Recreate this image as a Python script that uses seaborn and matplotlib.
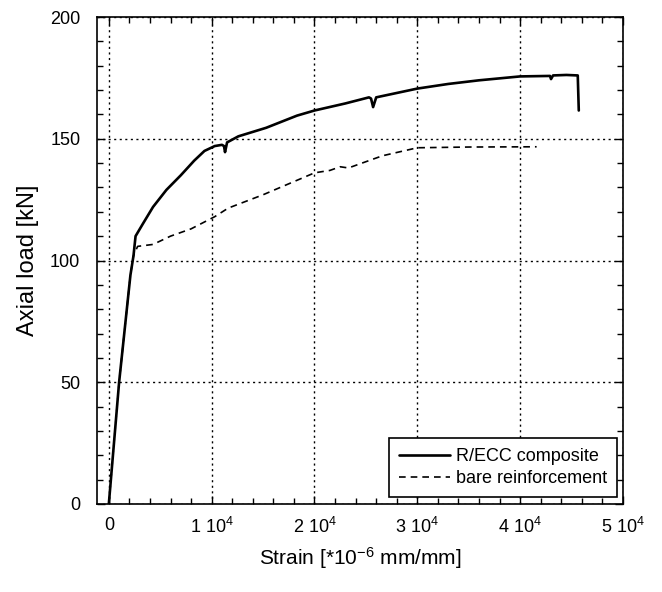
import matplotlib
matplotlib.use("Agg")
import matplotlib.pyplot as plt
import seaborn as sns
import pandas as pd
from matplotlib.ticker import MultipleLocator, FixedLocator

# ---- data ----
recc_strain = [0, 1000, 2100, 2400, 2600, 3300, 4300, 5600, 7000, 8300, 9300, 10300, 11000, 11200,
               11300, 11500, 12600, 15300, 18300, 20000, 23000, 25300, 25500, 25700, 26000, 28000,
               30000, 33000, 36000, 40000, 42900, 43000, 43200, 44500, 45600, 45700]
recc_load = [0, 50, 94, 102, 110, 115, 122, 129, 135, 141, 145, 147, 147.5, 147,
             144.5, 148.5, 151, 154.5, 159.5, 161.6, 164.5, 167, 166.5, 163, 167, 168.8,
             170.6, 172.5, 174, 175.6, 175.8, 174.5, 176, 176.2, 176, 161.6]

bare_strain = [0, 1000, 2100, 2400, 2800, 4300, 6000, 8000, 10300, 11600, 15000, 20000, 21500,
               22500, 23300, 26600, 30000, 35000, 41600]
bare_load = [0, 50, 94, 102, 105.8, 106.6, 110, 113, 118, 121.5, 127, 136, 137,
             138.5, 138, 143, 146.3, 146.6, 146.7]

series_names = ["R/ECC composite", "bare reinforcement"]
x_ticks = [0, 10000, 20000, 30000, 40000, 50000]
x_tick_labels = ["0", r"1 10$^{4}$", r"2 10$^{4}$", r"3 10$^{4}$", r"4 10$^{4}$", r"5 10$^{4}$"]
y_ticks = [0, 50, 100, 150, 200]

df = pd.concat([
    pd.DataFrame({"strain": recc_strain, "load": recc_load, "series": series_names[0]}),
    pd.DataFrame({"strain": bare_strain, "load": bare_load, "series": series_names[1]}),
], ignore_index=True)

sns.set_style("ticks")
plt.rcParams["font.family"] = ["Liberation Sans", "DejaVu Sans"]
plt.rcParams["mathtext.fontset"] = "custom"
plt.rcParams["mathtext.rm"] = "Liberation Sans"
plt.rcParams["mathtext.it"] = "Liberation Sans:italic"
plt.rcParams["mathtext.bf"] = "Liberation Sans:bold"
plt.rcParams["text.color"] = "black"
plt.rcParams["axes.labelcolor"] = "black"
plt.rcParams["xtick.color"] = "black"
plt.rcParams["ytick.color"] = "black"

fig = plt.figure(figsize=(6.62, 5.92), dpi=100)
ax = fig.add_axes([97 / 662, 88 / 592, 526 / 662, 487 / 592])

# draw bare first so solid sits on top
sns.lineplot(data=df[df.series == series_names[1]], x="strain", y="load", ax=ax,
             color="black", linestyle=(0, (4, 3)), linewidth=1.2, label=series_names[1],
             sort=False, estimator=None)
sns.lineplot(data=df[df.series == series_names[0]], x="strain", y="load", ax=ax,
             color="black", linestyle="-", linewidth=1.9, label=series_names[0],
             sort=False, estimator=None)

ax.set_xlim(-1150, 50000)
ax.set_ylim(0, 200)
ax.xaxis.set_major_locator(FixedLocator(x_ticks))
ax.set_xticklabels(x_tick_labels)
ax.yaxis.set_major_locator(FixedLocator(y_ticks))
ax.xaxis.set_minor_locator(MultipleLocator(2000))
ax.yaxis.set_minor_locator(MultipleLocator(10))
ax.tick_params(which="both", direction="in", top=True, right=True, color="black")
ax.tick_params(which="major", length=6, width=1, labelsize=13, labelcolor="black")
ax.tick_params(axis="x", which="major", pad=9)
ax.tick_params(axis="y", which="major", pad=12)
ax.tick_params(which="minor", length=4, width=1)
for s in ax.spines.values():
    s.set_color("black")
    s.set_linewidth(1.2)

ax.grid(True, which="major", color="black", linestyle=(0, (1.5, 2.5)), linewidth=1)

ax.set_xlabel(r"Strain [*10$^{-6}$ mm/mm]", fontsize=15, labelpad=6, color="black")
ax.set_ylabel("Axial load [kN]", fontsize=17, labelpad=8, color="black")

handles, labels = ax.get_legend_handles_labels()
order = [labels.index(series_names[0]), labels.index(series_names[1])]
leg = ax.legend([handles[i] for i in order], [labels[i] for i in order],
                loc="lower right", bbox_to_anchor=(0.989, 0.014), fontsize=13,
                frameon=True, fancybox=False, edgecolor="black", framealpha=1,
                handlelength=2.8, handletextpad=0.35, borderpad=0.55, labelspacing=0.3,
                borderaxespad=0.0)
leg.get_frame().set_linewidth(1.2)
for t in leg.get_texts():
    t.set_color("black")

fig.savefig("out.png", dpi=100)
